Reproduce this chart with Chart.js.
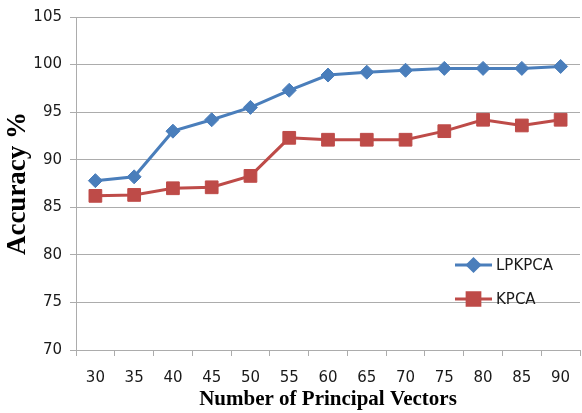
<!DOCTYPE html>
<html>
<head>
<meta charset="utf-8">
<script src="https://cdn.jsdelivr.net/npm/chart.js@4/dist/chart.umd.min.js"></script>
<style>
  html, body { margin: 0; padding: 0; background: #ffffff; overflow: hidden; width: 582px; height: 413px; }
  #wrap { position: absolute; left: 0; top: 0; width: 590px; height: 413px; }
</style>
</head>
<body>
<div id="wrap"><canvas id="c" width="590" height="413"></canvas></div>
<script>
const categories = ['30','35','40','45','50','55','60','65','70','75','80','85','90'];
const lpkpca = [87.8, 88.2, 93.0, 94.2, 95.5, 97.3, 98.9, 99.2, 99.4, 99.6, 99.6, 99.6, 99.8];
const kpca   = [86.2, 86.3, 87.0, 87.1, 88.3, 92.3, 92.1, 92.1, 92.1, 93.0, 94.2, 93.6, 94.2];
const seriesNames = ['LPKPCA', 'KPCA'];
const yTicks = [70, 75, 80, 85, 90, 95, 100, 105];

const BLUE = '#4a7ebb';
const RED = '#be4b48';
const GRID = '#acacac';
const TICKFONT = { family: '"DejaVu Sans", Verdana, sans-serif', size: 15 };

const legendPlugin = {
  id: 'insideLegend',
  afterDraw(chart) {
    const ctx = chart.ctx;
    const rows = [265, 299];
    ctx.save();
    chart.data.datasets.forEach((ds, i) => {
      const y = rows[i];
      ctx.strokeStyle = ds.borderColor;
      ctx.lineWidth = 3;
      ctx.beginPath();
      ctx.moveTo(455, y);
      ctx.lineTo(492, y);
      ctx.stroke();
      Chart.helpers.drawPoint(ctx, {
        pointStyle: ds.pointStyle,
        radius: ds.pointStyle === 'rect' ? 9 : 6,
        borderWidth: 1
      }, 473.5, y);
      ctx.fillStyle = ds.borderColor;
      ctx.fill();
      ctx.fillStyle = '#1a1a1a';
      ctx.font = '15px "DejaVu Sans", Verdana, sans-serif';
      ctx.textBaseline = 'middle';
      ctx.textAlign = 'left';
      ctx.fillText(ds.label, 496, y + 1);
    });
    ctx.restore();
  }
};

new Chart(document.getElementById('c'), {
  type: 'line',
  data: {
    labels: categories,
    datasets: [
      {
        label: seriesNames[0],
        data: lpkpca,
        borderColor: BLUE,
        backgroundColor: BLUE,
        borderWidth: 3,
        pointStyle: 'rectRot',
        pointRadius: 7,
        pointBorderWidth: 1,
        tension: 0
      },
      {
        label: seriesNames[1],
        data: kpca,
        borderColor: RED,
        backgroundColor: RED,
        borderWidth: 3,
        pointStyle: 'rect',
        pointRadius: 9,
        pointBorderWidth: 1,
        tension: 0
      }
    ]
  },
  options: {
    responsive: false,
    devicePixelRatio: 1,
    animation: false,
    layout: { padding: { left: 0, right: 4, top: 15, bottom: 0 } },
    plugins: {
      legend: { display: false },
      tooltip: { enabled: false }
    },
    scales: {
      x: {
        type: 'category',
        offset: true,
        afterFit(scale) { scale.height = 63; },
        grid: {
          offset: true,
          drawOnChartArea: false,
          drawTicks: true,
          tickLength: 6,
          color: GRID
        },
        border: { color: GRID, width: 1 },
        ticks: { color: '#1a1a1a', font: TICKFONT, padding: 13, maxRotation: 0, autoSkip: false },
        title: {
          display: true,
          text: 'Number of Principal Vectors',
          color: '#000',
          font: { family: '"Liberation Serif", "Times New Roman", serif', size: 21, weight: 'bold' },
          padding: { top: 0, bottom: 1 }
        }
      },
      y: {
        min: 70,
        max: 105,
        afterFit(scale) { scale.width = 76; },
        afterBuildTicks(scale) { scale.ticks = yTicks.map(v => ({ value: v })); },
        grid: { color: GRID, lineWidth: 1, drawTicks: true, tickLength: 6 },
        border: { color: GRID, width: 1 },
        ticks: { color: '#1a1a1a', font: TICKFONT, padding: 8 },
        title: {
          display: true,
          text: 'Accuracy %',
          color: '#000',
          font: { family: '"Liberation Serif", "Times New Roman", serif', size: 27, weight: 'bold' },
          padding: { top: 2, bottom: 0 }
        }
      }
    }
  },
  plugins: [legendPlugin]
});
</script>
</body>
</html>
